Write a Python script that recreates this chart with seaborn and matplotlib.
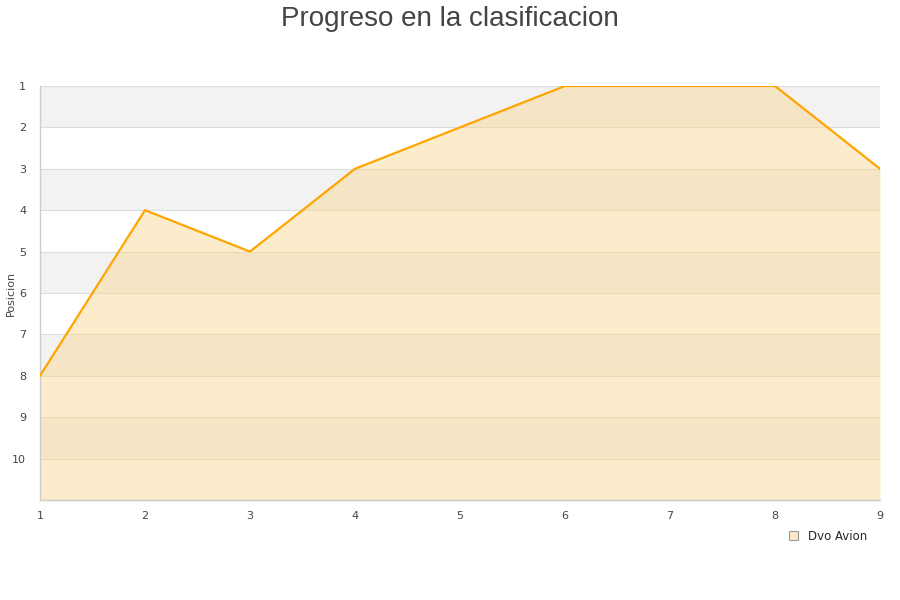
import matplotlib
matplotlib.use("Agg")
import matplotlib.pyplot as plt
import seaborn as sns
import pandas as pd

jornadas = [1, 2, 3, 4, 5, 6, 7, 8, 9]
posicion = [8, 4, 5, 3, 2, 1, 1, 1, 3]
equipo = "Dvo Avion"
y_ticks = [1, 2, 3, 4, 5, 6, 7, 8, 9, 10]

sns.set_theme(style="white")
plt.rcParams['font.family'] = ['DejaVu Sans']

df = pd.DataFrame({"Jornada": jornadas, "Posicion": posicion})

fig = plt.figure(figsize=(9, 6), dpi=100)
ax = fig.add_axes([40/900, 1-500/600, 840/900, 414/600])

# alternating bands
for start in [1, 3, 5, 7, 9]:
    ax.axhspan(start, start + 1, color="#f2f2f2", zorder=0, lw=0)
for y in range(1, 12):
    ax.axhline(y, color="#dddddd", lw=0.8, zorder=1)

ax.fill_between(df["Jornada"], df["Posicion"], 11, color="#fbd68c", alpha=0.45, lw=0, zorder=2)
sns.lineplot(data=df, x="Jornada", y="Posicion", ax=ax, color="#ffa500", lw=1.6, zorder=3, legend=False)

ax.set_xlim(1, 9)
ax.set_ylim(11, 1)
ax.set_xticks(jornadas)
ax.set_yticks(y_ticks)
ax.tick_params(axis="both", length=0, labelsize=8, colors="#444444")
ax.tick_params(axis="x", pad=8)
ax.tick_params(axis="y", pad=10)
ax.set_xlabel("")
ax.set_ylabel("Posicion", fontsize=8, color="#444444")
ax.yaxis.set_label_coords(-24/840, 0.5)
for s in ["top", "right"]:
    ax.spines[s].set_visible(False)
for s in ["left", "bottom"]:
    ax.spines[s].set_color("#cccccc")
    ax.spines[s].set_linewidth(1)

fig.text(0.5, 0.99, "Progreso en la clasificacion", ha="center", va="top",
         fontsize=20, color="#444444", family=["Liberation Sans", "DejaVu Sans"])

from matplotlib.patches import Patch
h = Patch(facecolor="#fde9c5", edgecolor="#999999", lw=0.8)
leg = fig.legend([h], [equipo], loc="center right", bbox_to_anchor=(0.975, 1-536/600),
                 frameon=False, fontsize=8.5, handlelength=0.8, handleheight=0.8,
                 handletextpad=0.8)

fig.savefig("out.png", dpi=100)
